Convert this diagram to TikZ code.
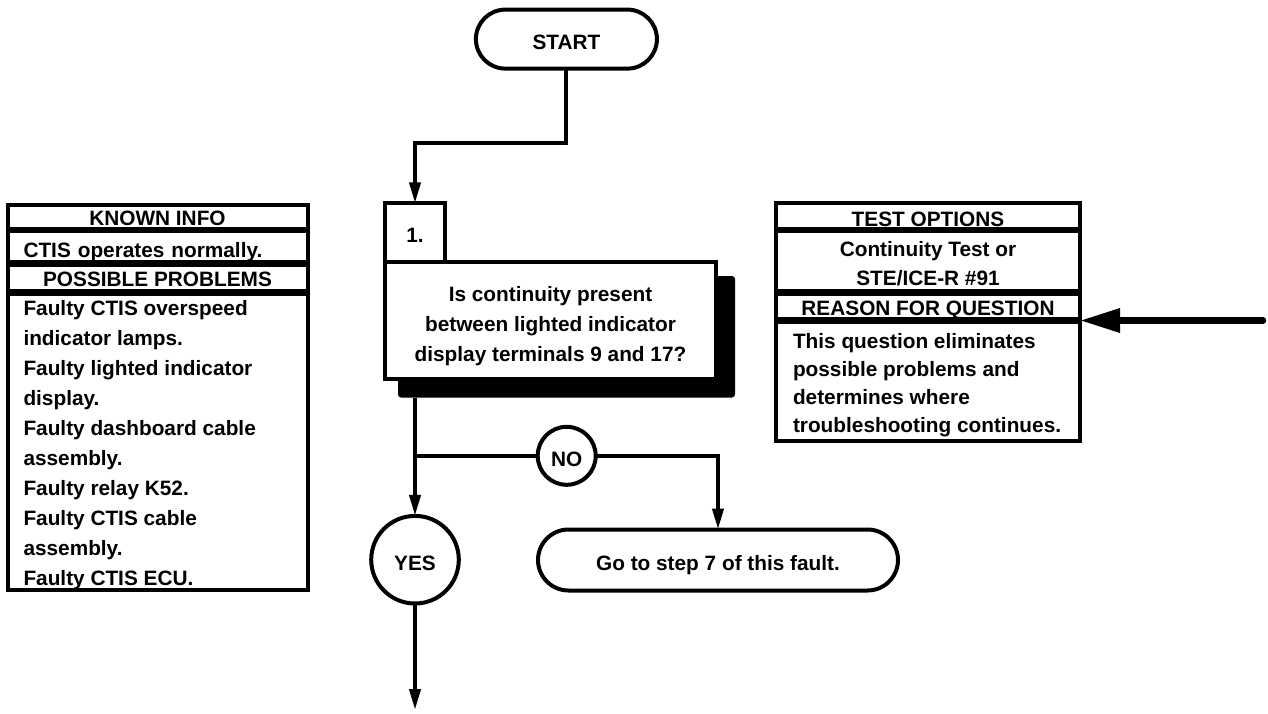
\documentclass[tikz,border=0pt]{standalone}
\usepackage{fontspec}
\setmainfont{Liberation Sans}
\usetikzlibrary{arrows.meta}
\begin{document}
\begin{tikzpicture}[x=1pt,y=-1pt,
  every node/.style={font=\fontsize{20.8}{29.9}\selectfont\bfseries, inner sep=0pt, outer sep=0pt},
  one/.style={text height=20.6pt, text depth=0pt},
  cellbox/.style n args={2}{draw, line width=4pt, minimum width=#1, minimum height=#2},
  sepline/.style={line width=6.5pt},
  flow/.style={line width=4pt, -{Triangle[length=21pt,width=11pt]}},
  link/.style={line width=4pt},
  bigarrow/.style={line width=6.5pt, line cap=round, -{Triangle[length=40pt,width=23pt]}},
]
\useasboundingbox (0,0) rectangle (1268,713);

% ---------- left table ----------
\node[cellbox={300pt}{25.5pt}, one, text height=16.5pt] (k1) at (157.5,217.25) {KNOWN INFO};
\node[cellbox={300pt}{33.5pt}, one, text width=268pt, align=left, inner xsep=16pt] (k2) at (157.5,246.75) {CTIS operates normally.};
\node[cellbox={300pt}{29pt}, one, text height=17pt] (k3) at (157.5,278) {POSSIBLE PROBLEMS};
\node[cellbox={300pt}{297.5pt}] (k4) at (157.5,441.25) {};
\node[anchor=west, align=left, font=\fontsize{20.8}{29.9}\selectfont\bfseries] (k4t) at (23.5,441.25)
  {\rule{0pt}{23.5pt}Faulty CTIS overspeed\\indicator lamps.\\Faulty lighted indicator\\display.\\Faulty dashboard cable\\assembly.\\Faulty relay K52.\\Faulty CTIS cable\\assembly.\\Faulty CTIS ECU.\rule[-5pt]{0pt}{5pt}};
\draw[sepline] (k1.south west) -- (k1.south east);
\draw[sepline] (k2.south west) -- (k2.south east);
\draw[sepline] (k3.south west) -- (k3.south east);

% ---------- right table ----------
\node[cellbox={304pt}{27pt}, one, text height=20pt] (t1) at (928,216.5) {TEST OPTIONS};
\node[cellbox={304pt}{62.5pt}, align=center, font=\fontsize{20.8}{28.5}\selectfont\bfseries] (t2) at (928,261.25)
  {\rule{0pt}{24pt}Continuity Test or\\STE/ICE-R \#91\rule[-5pt]{0pt}{5pt}};
\node[cellbox={304pt}{28pt}, one, text height=18pt] (t3) at (928,306.5) {REASON FOR QUESTION};
\node[cellbox={304pt}{120.5pt}] (t4) at (928,380.75) {};
\node[anchor=west, align=left, font=\fontsize{20.8}{28}\selectfont\bfseries] (t4t) at (793,380.75)
  {\rule{0pt}{23.5pt}This question eliminates\\possible problems and\\determines where\\troubleshooting continues.\rule[-5pt]{0pt}{5pt}};
\draw[sepline] (t1.south west) -- (t1.south east);
\draw[sepline] (t2.south west) -- (t2.south east);
\draw[sepline] (t3.south west) -- (t3.south east);

% ---------- flow ----------
\node[draw, line width=4pt, rounded corners=29.5pt, minimum width=181pt, minimum height=59pt, one, text height=20.4pt] (start) at (566.4,39.1) {START};
\node[fill=black, rounded corners=3pt, minimum width=337pt, minimum height=121.5pt] (qs) at (566.5,336.75) {};
\node[cellbox={331pt}{117.5pt}, fill=white, align=center, font=\fontsize{20.8}{30}\selectfont\bfseries] (q) at (550.5,320.25)
  {\rule{0pt}{27.5pt}Is continuity present\\between lighted indicator\\display terminals 9 and 17?\rule[-5pt]{0pt}{5pt}};
\node[cellbox={60pt}{58.2pt}, fill=white, one, text height=20.2pt] (num) at (415,232.4) {1.};
\node[draw, circle, line width=4pt, minimum size=58pt, one, text height=21.4pt] (no) at (566.7,455.8) {NO};
\node[draw, circle, line width=4pt, minimum size=87.6pt, one] (yes) at (415,559.7) {YES};
\node[draw, line width=4pt, rounded corners=30.5pt, minimum width=360pt, minimum height=61pt, one, text height=21pt] (goto) at (718,560) {Go to step 7 of this fault.};

\coordinate (split) at (415,455.8);
\coordinate (endpt) at (415,710);
\coordinate (rsrc) at (1263,320.5);

\draw[flow] (start.south) -- ++(0,74) -| (num.north);
\draw[flow] (qs.south -| num.north) -- (yes.north);
\draw[link] (split) -- (no.west);
\draw[flow] (no.east) -| (goto.north);
\draw[flow] (yes.south) -- (endpt);
\draw[bigarrow] (rsrc) -- (t3.south east);
\end{tikzpicture}
\end{document}
